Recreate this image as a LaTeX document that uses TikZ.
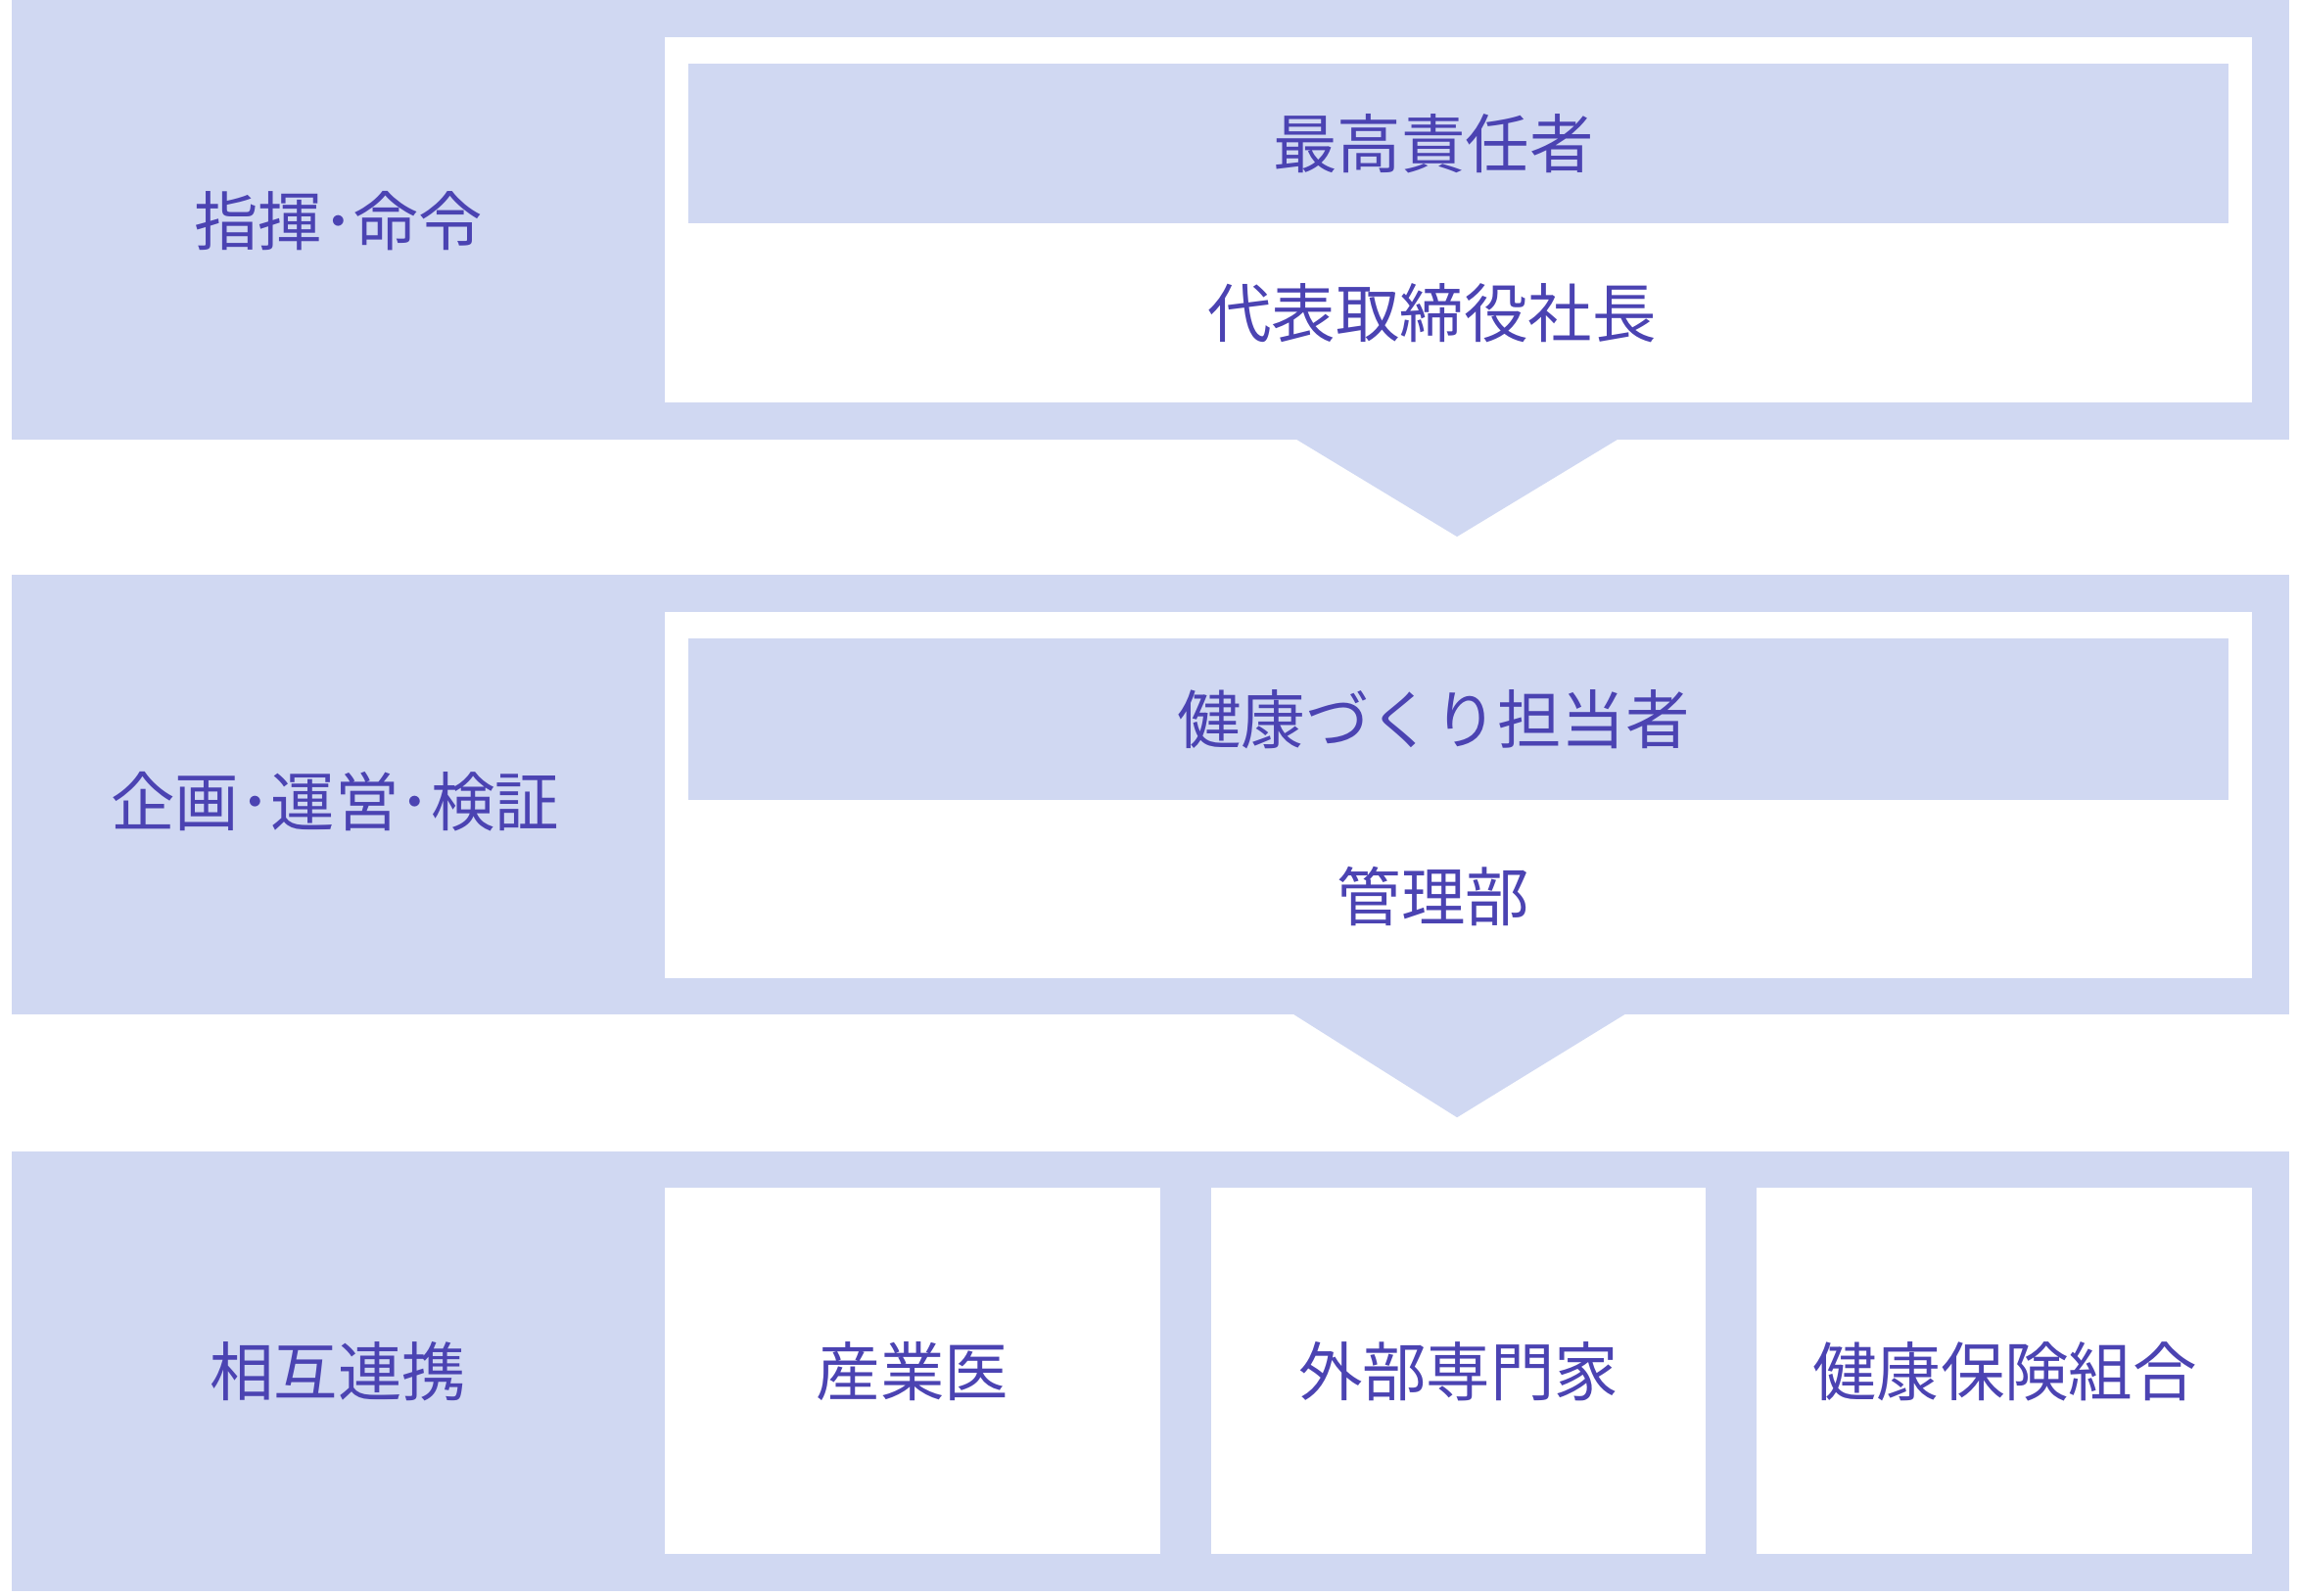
\documentclass[tikz,border=0pt]{standalone}
\usepackage{fontspec}
\setmainfont{Noto Sans CJK JP}
\definecolor{bandblue}{HTML}{D0D8F2}
\definecolor{inkblue}{HTML}{4B43B2}
\begin{document}
\begin{tikzpicture}[x=0.5mm,y=-0.5mm,
    txt/.style={text=inkblue,font=\fontsize{62}{70}\selectfont,inner sep=0pt}]
  \useasboundingbox (0,0) rectangle (1563,1085);

  % bands
  \fill[bandblue] (8,0) rectangle (1557,299);
  \fill[bandblue] (8,391) rectangle (1557,690);
  \fill[bandblue] (8,783) rectangle (1557,1082);

  % arrows
  \fill[bandblue] (882,299) -- (1100,299) -- (991,365) -- cycle;
  \fill[bandblue] (880,690) -- (1105,690) -- (991,760) -- cycle;

  % top block
  \fill[white] (452,25) rectangle (1532,274);
  \fill[bandblue] (468,43) rectangle (1516,152);
  \node[txt] (cmd) at (230,150) {指揮･命令};
  \node[txt] (ceo) at (975,98) {最高責任者};
  \node[txt] (pres) at (974,213) {代表取締役社長};

  % middle block
  \fill[white] (452,416) rectangle (1532,665);
  \fill[bandblue] (468,434) rectangle (1516,544);
  \node[txt] (plan) at (228,545) {企画･運営･検証};
  \node[txt] (hlead) at (975,489) {健康づくり担当者};
  \node[txt] (admin) at (975,610) {管理部};

  % bottom block
  \node[txt] (coop) at (230,933) {相互連携};
  \foreach \xa/\xb/\name/\label in {452/789/doc/産業医,824/1160/ext/外部専門家,1195/1532/ins/健康保険組合}{
    \fill[white] (\xa,808) rectangle (\xb,1057);
    \node[txt] (\name) at ({(\xa+\xb)/2},933) {\label};
  }
\end{tikzpicture}
\end{document}
